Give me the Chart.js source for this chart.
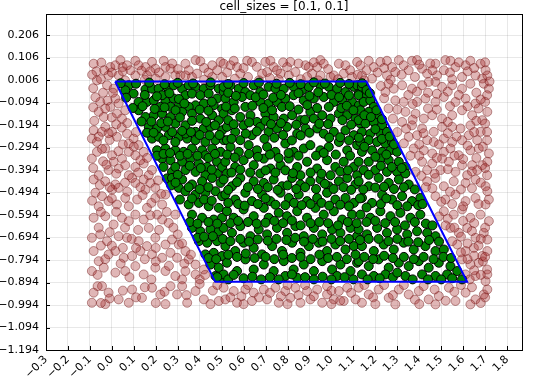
<!DOCTYPE html>
<html>
<head>
<meta charset="utf-8">
<script src="https://cdn.jsdelivr.net/npm/chart.js@4.4.0/dist/chart.umd.min.js"></script>
<style>
  html, body { margin: 0; padding: 0; background: #fff; }
  canvas { display: block; }
</style>
</head>
<body>
<canvas id="grafico" width="535" height="382"></canvas>
<script>
// contorno da célula (paralelogramo)
const cellPoly = [[0.015, 0], [1.16, 0], [1.618, -0.891], [0.471, -0.891], [0.015, 0]];

const xTicks = [-0.3, -0.2, -0.1, 0.0, 0.1, 0.2, 0.3, 0.4, 0.5, 0.6, 0.7, 0.8, 0.9, 1.0, 1.1, 1.2, 1.3, 1.4, 1.5, 1.6, 1.7, 1.8];
const yTicks = [-1.194, -1.094, -0.994, -0.894, -0.794, -0.694, -0.594, -0.494, -0.394, -0.294, -0.194, -0.094, 0.006, 0.106, 0.206];

// pontos dentro da célula
const greenPts = [
[0.099,-0.054],[0.153,-0.035],[0.183,-0.032],[0.213,-0.032],[0.251,-0.024],[0.282,-0.017],[0.320,-0.032],[0.350,-0.017],[0.381,-0.024],[0.419,-0.032],[0.449,-0.017],[0.487,-0.032],[0.510,-0.047],
[0.122,-0.091],[0.160,-0.091],[0.191,-0.084],[0.244,-0.088],[0.282,-0.076],[0.335,-0.061],[0.365,-0.054],[0.403,-0.061],[0.441,-0.054],[0.479,-0.076],[0.381,-0.106],[0.350,-0.113],[0.419,-0.098],[0.305,-0.106],[0.502,-0.121],
[0.153,-0.158],[0.191,-0.150],[0.229,-0.143],[0.267,-0.158],[0.320,-0.135],[0.365,-0.143],[0.403,-0.165],[0.457,-0.150],[0.487,-0.172],[0.289,-0.187],[0.335,-0.195],[0.244,-0.202],[0.168,-0.202],[0.206,-0.209],[0.419,-0.209],[0.381,-0.224],[0.449,-0.202],[0.502,-0.217],
[0.183,-0.254],[0.213,-0.246],[0.259,-0.239],[0.305,-0.246],[0.343,-0.254],[0.381,-0.261],[0.426,-0.269],[0.472,-0.261],[0.510,-0.261],
[0.206,-0.306],[0.244,-0.298],[0.289,-0.306],[0.327,-0.313],[0.365,-0.298],[0.411,-0.306],[0.457,-0.298],[0.495,-0.313],
[0.229,-0.343],[0.267,-0.350],[0.320,-0.357],[0.358,-0.343],[0.396,-0.365],[0.434,-0.380],[0.479,-0.357],
[0.274,-0.402],[0.335,-0.394],[0.381,-0.402],[0.426,-0.417],[0.479,-0.409],[0.251,-0.431],
[0.077,-0.017],[0.061,-0.039],[0.229,-0.061],[0.122,-0.128],[0.267,-0.113],[0.221,-0.113],[0.464,-0.106],[0.335,-0.232],[0.289,-0.269],[0.426,-0.328],[0.289,-0.380],[0.502,-0.380],
[0.509,-0.024],[0.540,-0.017],[0.578,-0.032],[0.608,-0.047],[0.646,-0.017],[0.676,-0.047],[0.714,-0.024],[0.745,-0.032],[0.783,-0.032],[0.828,-0.024],[0.866,-0.039],[0.897,-0.024],[0.950,-0.017],[0.988,-0.024],[1.026,-0.032],[1.064,-0.047],[1.102,-0.024],[1.125,-0.054],
[0.517,-0.076],[0.555,-0.091],[0.593,-0.069],[0.631,-0.061],[0.676,-0.091],[0.714,-0.098],[0.752,-0.091],[0.790,-0.076],[0.828,-0.061],[0.874,-0.084],[0.920,-0.076],[0.965,-0.069],[1.011,-0.091],[1.049,-0.084],[1.094,-0.091],[1.125,-0.106],[0.608,-0.113],[0.775,-0.113],[0.988,-0.113],
[0.509,-0.143],[0.547,-0.128],[0.585,-0.158],[0.631,-0.150],[0.661,-0.180],[0.699,-0.143],[0.737,-0.158],[0.783,-0.165],[0.821,-0.150],[0.859,-0.172],[0.904,-0.135],[0.920,-0.165],[0.958,-0.150],[0.996,-0.165],[1.034,-0.143],[1.072,-0.150],[1.110,-0.165],[1.132,-0.187],
[0.524,-0.202],[0.562,-0.224],[0.600,-0.195],[0.638,-0.239],[0.676,-0.202],[0.714,-0.224],[0.752,-0.209],[0.798,-0.202],[0.844,-0.232],[0.882,-0.209],[0.935,-0.209],[0.965,-0.232],[1.011,-0.224],[1.064,-0.217],[1.102,-0.239],[0.524,-0.261],[0.585,-0.261],
[0.540,-0.291],[0.578,-0.313],[0.623,-0.283],[0.661,-0.306],[0.707,-0.291],[0.745,-0.313],[0.790,-0.276],[0.828,-0.313],[0.874,-0.298],[0.904,-0.283],[0.950,-0.306],[0.988,-0.291],[1.034,-0.269],[1.072,-0.306],[1.117,-0.283],
[0.517,-0.357],[0.562,-0.380],[0.600,-0.350],[0.646,-0.372],[0.692,-0.343],[0.722,-0.387],[0.768,-0.372],[0.806,-0.343],[0.844,-0.380],[0.889,-0.357],[0.935,-0.387],[0.980,-0.350],[1.018,-0.380],[1.056,-0.357],[1.102,-0.380],[0.524,-0.409],[0.676,-0.409],[0.859,-0.417],[0.996,-0.417],[1.117,-0.417],
[1.117,-0.017],[1.139,-0.024],[1.124,-0.061],[1.162,-0.061],[1.147,-0.091],[1.177,-0.084],[1.193,-0.113],[1.132,-0.128],[1.170,-0.135],[1.208,-0.150],[1.124,-0.172],[1.155,-0.187],[1.193,-0.180],[1.231,-0.195],[1.139,-0.224],[1.177,-0.232],[1.223,-0.232],[1.253,-0.224],[1.132,-0.269],[1.170,-0.261],[1.208,-0.269],[1.246,-0.276],[1.276,-0.269],[1.139,-0.313],[1.185,-0.306],[1.231,-0.313],[1.269,-0.306],[1.299,-0.313],[1.124,-0.357],[1.170,-0.357],[1.223,-0.343],[1.261,-0.350],[1.307,-0.357],[1.337,-0.380],[1.147,-0.394],[1.200,-0.394],[1.253,-0.402],[1.299,-0.402],[1.337,-0.409],
[0.274,-0.429],[0.320,-0.436],[0.365,-0.458],[0.411,-0.444],[0.457,-0.429],[0.495,-0.451],[0.305,-0.473],[0.335,-0.488],[0.381,-0.503],[0.426,-0.495],[0.472,-0.488],[0.502,-0.510],[0.350,-0.547],[0.396,-0.540],[0.441,-0.555],[0.487,-0.562],[0.365,-0.592],[0.411,-0.606],[0.464,-0.614],[0.502,-0.606],[0.365,-0.651],[0.403,-0.666],[0.449,-0.658],[0.487,-0.666],[0.396,-0.710],[0.434,-0.717],[0.479,-0.710],[0.426,-0.769],[0.464,-0.762],[0.502,-0.776],[0.449,-0.814],[0.487,-0.828],[0.472,-0.865],[0.502,-0.873],
[0.509,-0.436],[0.547,-0.466],[0.585,-0.429],[0.646,-0.444],[0.692,-0.451],[0.737,-0.436],[0.775,-0.466],[0.821,-0.429],[0.859,-0.458],[0.904,-0.444],[0.950,-0.436],[0.988,-0.466],[1.034,-0.444],[1.072,-0.429],[1.110,-0.458],
[0.517,-0.503],[0.562,-0.525],[0.608,-0.495],[0.638,-0.532],[0.684,-0.503],[0.722,-0.532],[0.768,-0.495],[0.806,-0.518],[0.851,-0.503],[0.889,-0.532],[0.935,-0.518],[0.980,-0.495],[1.018,-0.525],[1.064,-0.518],[1.102,-0.540],
[0.524,-0.577],[0.555,-0.606],[0.600,-0.569],[0.646,-0.599],[0.692,-0.562],[0.714,-0.606],[0.760,-0.584],[0.798,-0.599],[0.844,-0.577],[0.889,-0.606],[0.927,-0.562],[0.965,-0.592],[1.011,-0.577],[1.049,-0.614],[1.094,-0.592],
[0.509,-0.651],[0.547,-0.673],[0.585,-0.643],[0.631,-0.688],[0.669,-0.658],[0.707,-0.680],[0.752,-0.651],[0.798,-0.673],[0.836,-0.643],[0.874,-0.688],[0.920,-0.651],[0.958,-0.680],[1.003,-0.658],[1.041,-0.673],[1.087,-0.651],[1.117,-0.688],
[0.517,-0.732],[0.562,-0.754],[0.600,-0.717],[0.646,-0.740],[0.684,-0.769],[0.730,-0.732],[0.775,-0.754],[0.821,-0.717],[0.859,-0.762],[0.897,-0.732],[0.942,-0.717],[0.980,-0.754],[1.018,-0.725],[1.064,-0.747],[1.102,-0.732],
[0.524,-0.806],[0.570,-0.843],[0.608,-0.791],[0.646,-0.836],[0.692,-0.814],[0.737,-0.843],[0.783,-0.799],[0.828,-0.836],[0.874,-0.814],[0.920,-0.843],[0.958,-0.799],[1.003,-0.836],[1.041,-0.814],[1.087,-0.843],[1.117,-0.806],[0.509,-0.858],[0.790,-0.865],[0.844,-0.873],[1.026,-0.865],
[1.124,-0.444],[1.170,-0.466],[1.215,-0.429],[1.261,-0.451],[1.307,-0.436],[1.352,-0.458],
[1.139,-0.518],[1.185,-0.540],[1.231,-0.503],[1.276,-0.525],[1.322,-0.510],[1.367,-0.532],[1.405,-0.518],
[1.132,-0.592],[1.177,-0.606],[1.223,-0.577],[1.269,-0.599],[1.314,-0.584],[1.360,-0.606],[1.405,-0.592],
[1.124,-0.658],[1.162,-0.680],[1.208,-0.651],[1.253,-0.673],[1.299,-0.658],[1.345,-0.680],[1.390,-0.666],[1.436,-0.673],[1.474,-0.688],
[1.139,-0.732],[1.193,-0.754],[1.238,-0.725],[1.284,-0.747],[1.329,-0.717],[1.375,-0.747],[1.428,-0.732],[1.474,-0.754],[1.512,-0.747],
[1.124,-0.799],[1.170,-0.821],[1.215,-0.791],[1.261,-0.828],[1.307,-0.806],[1.352,-0.821],[1.398,-0.799],[1.443,-0.828],[1.489,-0.806],[1.542,-0.821],
[1.139,-0.858],[1.193,-0.865],[1.246,-0.858],[1.337,-0.865],[1.413,-0.858],[1.474,-0.865],[1.527,-0.858],[1.573,-0.843],
[0.040,-0.008],[0.110,-0.010],[0.170,-0.005],[0.240,-0.012],[0.300,-0.006],[0.370,-0.009],[0.450,-0.004],[0.530,-0.011],[0.600,-0.007],[0.670,-0.005],[0.750,-0.010],[0.810,-0.006],[0.860,-0.012],[0.920,-0.004],[0.970,-0.009],[1.040,-0.006],[1.080,-0.011],[1.140,-0.008],
[0.065,-0.072],[0.150,-0.060],[0.205,-0.066],[0.262,-0.052],[0.305,-0.078],[0.455,-0.090],[0.530,-0.050],[0.565,-0.064],[0.655,-0.070],[0.690,-0.058],[0.735,-0.072],[0.770,-0.060],[0.850,-0.052],[0.900,-0.064],[0.940,-0.048],[1.000,-0.060],[1.035,-0.070],[1.080,-0.062],[1.160,-0.038],[1.175,-0.052],
[0.095,-0.118],[0.140,-0.110],[0.195,-0.122],[0.240,-0.115],[0.290,-0.128],[0.330,-0.098],[0.400,-0.125],[0.440,-0.130],[0.520,-0.112],[0.560,-0.120],[0.640,-0.108],[0.690,-0.118],[0.730,-0.128],[0.810,-0.110],[0.850,-0.125],[0.890,-0.105],[0.935,-0.118],[1.045,-0.118],[1.070,-0.108],[1.100,-0.128],[1.150,-0.150],[1.205,-0.128],
[0.135,-0.178],[0.180,-0.178],[0.225,-0.185],[0.255,-0.178],[0.310,-0.160],[0.365,-0.175],[0.430,-0.180],[0.470,-0.195],[0.530,-0.172],[0.555,-0.190],[0.625,-0.182],[0.700,-0.175],[0.725,-0.190],[0.770,-0.185],[0.840,-0.192],[0.880,-0.170],[0.945,-0.188],[0.985,-0.190],[1.050,-0.172],[1.090,-0.192],[1.180,-0.158],[1.230,-0.168],
[0.160,-0.228],[0.190,-0.228],[0.235,-0.262],[0.275,-0.225],[0.320,-0.220],[0.360,-0.225],[0.400,-0.238],[0.445,-0.240],[0.490,-0.238],[0.545,-0.255],[0.610,-0.232],[0.660,-0.222],[0.695,-0.255],[0.740,-0.250],[0.780,-0.238],[0.820,-0.262],[0.860,-0.240],[0.900,-0.228],[0.990,-0.250],[1.040,-0.248],[1.080,-0.262],[1.125,-0.250],[1.200,-0.212],[1.230,-0.255],[1.265,-0.245],
[0.205,-0.330],[0.235,-0.322],[0.265,-0.318],[0.310,-0.330],[0.345,-0.322],[0.390,-0.330],[0.440,-0.340],[0.470,-0.322],[0.525,-0.325],[0.560,-0.338],[0.625,-0.322],[0.665,-0.335],[0.720,-0.325],[0.760,-0.340],[0.805,-0.318],[0.850,-0.330],[0.930,-0.330],[0.965,-0.318],[1.020,-0.325],[1.085,-0.330],[1.150,-0.290],[1.200,-0.335],[1.250,-0.325],[1.285,-0.280],
[0.235,-0.380],[0.300,-0.415],[0.355,-0.375],[0.405,-0.385],[0.455,-0.392],[0.545,-0.405],[0.585,-0.392],[0.630,-0.405],[0.700,-0.395],[0.745,-0.405],[0.790,-0.395],[0.825,-0.408],[0.905,-0.405],[0.955,-0.410],[1.040,-0.400],[1.075,-0.395],[1.170,-0.415],[1.225,-0.375],[1.275,-0.380],[1.320,-0.385],
[0.270,-0.462],[0.290,-0.450],[0.350,-0.470],[0.400,-0.478],[0.440,-0.470],[0.530,-0.482],[0.570,-0.448],[0.620,-0.470],[0.665,-0.478],[0.710,-0.470],[0.755,-0.482],[0.800,-0.462],[0.840,-0.478],[0.880,-0.470],[0.930,-0.478],[0.970,-0.455],[1.010,-0.478],[1.055,-0.470],[1.090,-0.482],[1.145,-0.480],[1.200,-0.472],[1.240,-0.468],[1.285,-0.478],[1.330,-0.470],[1.380,-0.480],
[0.310,-0.525],[0.365,-0.520],[0.420,-0.525],[0.455,-0.530],[0.530,-0.540],[0.575,-0.545],[0.605,-0.552],[0.665,-0.545],[0.700,-0.520],[0.745,-0.548],[0.790,-0.550],[0.830,-0.540],[0.865,-0.550],[0.905,-0.545],[0.955,-0.540],[0.990,-0.552],[1.040,-0.548],[1.080,-0.555],[1.130,-0.520],[1.160,-0.560],[1.225,-0.545],[1.250,-0.520],[1.300,-0.550],[1.345,-0.555],[1.395,-0.550],[1.415,-0.545],
[0.355,-0.625],[0.390,-0.632],[0.440,-0.625],[0.480,-0.632],[0.540,-0.630],[0.575,-0.620],[0.620,-0.625],[0.660,-0.632],[0.700,-0.628],[0.740,-0.620],[0.780,-0.630],[0.820,-0.618],[0.860,-0.640],[0.905,-0.630],[0.945,-0.625],[0.985,-0.630],[1.030,-0.640],[1.075,-0.625],[1.115,-0.630],[1.160,-0.625],[1.200,-0.620],[1.245,-0.630],[1.290,-0.625],[1.335,-0.640],[1.380,-0.625],[1.430,-0.632],[1.460,-0.640],
[0.390,-0.695],[0.420,-0.690],[0.460,-0.688],[0.505,-0.700],[0.540,-0.710],[0.585,-0.700],[0.625,-0.712],[0.665,-0.702],[0.710,-0.708],[0.750,-0.700],[0.795,-0.705],[0.835,-0.695],[0.875,-0.712],[0.915,-0.700],[0.960,-0.712],[1.000,-0.700],[1.040,-0.710],[1.080,-0.700],[1.130,-0.705],[1.170,-0.700],[1.215,-0.700],[1.260,-0.710],[1.300,-0.700],[1.350,-0.712],[1.395,-0.715],[1.445,-0.705],[1.490,-0.712],
[0.440,-0.785],[0.475,-0.790],[0.530,-0.770],[0.570,-0.780],[0.610,-0.765],[0.650,-0.785],[0.700,-0.780],[0.740,-0.790],[0.780,-0.770],[0.820,-0.785],[0.860,-0.780],[0.905,-0.790],[0.945,-0.770],[0.985,-0.785],[1.025,-0.780],[1.070,-0.790],[1.110,-0.770],[1.150,-0.780],[1.190,-0.790],[1.240,-0.775],[1.280,-0.785],[1.330,-0.780],[1.375,-0.790],[1.420,-0.780],[1.465,-0.790],[1.510,-0.780],[1.545,-0.785],
[0.480,-0.870],[0.530,-0.880],[0.555,-0.860],[0.600,-0.875],[0.640,-0.868],[0.680,-0.880],[0.720,-0.870],[0.760,-0.880],[0.820,-0.858],[0.880,-0.870],[0.920,-0.880],[0.960,-0.868],[1.000,-0.880],[1.060,-0.870],[1.100,-0.880],[1.165,-0.880],[1.220,-0.875],[1.280,-0.870],[1.300,-0.850],[1.370,-0.880],[1.440,-0.880],[1.500,-0.880],[1.550,-0.875],[1.595,-0.880]
];

// pontos fora da célula
const brownPts = [
[-0.083,0.079],[-0.048,0.084],[-0.007,0.064],[0.016,0.072],[0.039,0.095],[0.049,0.064],[0.069,0.072],[0.107,0.092],[0.122,0.072],[0.153,0.064],[0.183,0.087],[0.198,0.057],[0.236,0.092],[0.244,0.064],[0.267,0.057],[0.335,0.079],[0.381,0.095],[0.403,0.090],[0.457,0.072],[0.495,0.087],[-0.015,0.027],[0.031,0.027],[0.107,0.027],[0.160,0.027],[0.244,0.020],[0.289,0.027],[0.312,0.027],[0.335,0.027],[0.365,0.020],[0.388,0.035],[0.457,0.020],[0.502,0.020],[-0.068,0.005],[-0.022,-0.017],[0.008,-0.032],
[-0.053,-0.091],[-0.060,-0.135],[-0.037,-0.158],[-0.007,-0.113],[0.016,-0.076],[0.031,-0.098],[0.023,-0.143],[0.046,-0.165],[0.061,-0.128],[-0.030,-0.202],[-0.083,-0.217],[-0.091,-0.254],[-0.068,-0.269],[-0.045,-0.224],[0.001,-0.224],[0.023,-0.246],[0.069,-0.232],[0.077,-0.276],[0.099,-0.254],[0.122,-0.283],[-0.068,-0.313],[-0.030,-0.298],[0.001,-0.328],[0.008,-0.357],[0.046,-0.343],[0.077,-0.313],[0.107,-0.328],[0.145,-0.313],[0.061,-0.372],[0.031,-0.387],[-0.015,-0.394],[-0.060,-0.417],[-0.091,-0.343],[0.107,-0.380],[0.145,-0.365],[0.183,-0.394],[0.077,-0.417],[0.168,-0.417],
[0.509,0.079],[0.540,0.072],[0.570,0.064],[0.585,0.035],[0.616,0.092],[0.638,0.087],[0.699,0.087],[0.722,0.092],[0.737,0.064],[0.707,0.042],[0.684,0.035],[0.752,0.050],[0.768,0.035],[0.798,0.064],[0.813,0.087],[0.806,0.027],[0.836,0.042],[0.882,0.072],[0.897,0.064],[0.912,0.035],[0.889,0.020],[0.935,0.064],[0.950,0.095],[0.965,0.079],[0.950,0.027],[0.996,0.020],[1.011,0.027],[1.034,0.079],[1.064,0.072],[1.056,0.035],[1.094,0.020],[1.117,0.087],
[1.132,0.072],[1.170,0.092],[1.193,0.064],[1.223,0.087],[1.253,0.092],[1.276,0.064],[1.307,0.095],[1.329,0.072],[1.367,0.092],[1.390,0.095],[1.352,0.050],[1.291,0.042],[1.253,0.027],[1.185,0.013],[1.139,0.027],[1.413,0.057],[1.436,0.035],[1.474,0.079],[1.481,0.027],[1.519,0.095],[1.542,0.092],[1.512,0.050],[1.565,0.064],[1.595,0.020],[1.611,0.072],[1.633,0.092],[1.679,0.079],[1.702,0.050],[1.687,0.013],[1.710,0.027],[1.656,0.027],[1.474,-0.002],
[1.246,-0.047],[1.284,-0.032],[1.322,-0.017],[1.367,-0.032],[1.413,-0.017],[1.443,-0.002],[1.504,-0.024],[1.550,-0.017],[1.595,-0.032],[1.633,-0.010],[1.694,-0.010],[1.717,-0.032],
[1.291,-0.084],[1.329,-0.091],[1.390,-0.091],[1.428,-0.076],[1.474,-0.091],[1.512,-0.069],[1.565,-0.091],[1.611,-0.076],[1.656,-0.098],[1.709,-0.061],[1.700,-0.091],
[1.337,-0.135],[1.383,-0.143],[1.421,-0.165],[1.459,-0.150],[1.504,-0.165],[1.550,-0.150],[1.595,-0.128],[1.641,-0.150],[1.687,-0.172],[1.710,-0.135],[1.700,-0.187],
[1.322,-0.180],[1.367,-0.195],[1.413,-0.209],[1.466,-0.224],[1.504,-0.202],[1.550,-0.202],[1.588,-0.209],[1.633,-0.195],[1.679,-0.224],[1.709,-0.224],
[1.352,-0.246],[1.390,-0.239],[1.436,-0.261],[1.466,-0.269],[1.512,-0.254],[1.550,-0.269],[1.595,-0.261],[1.626,-0.239],[1.664,-0.261],[1.709,-0.261],
[1.375,-0.298],[1.421,-0.306],[1.459,-0.320],[1.512,-0.313],[1.542,-0.298],[1.580,-0.328],[1.633,-0.306],[1.671,-0.298],[1.717,-0.320],
[1.413,-0.357],[1.459,-0.365],[1.504,-0.343],[1.535,-0.357],[1.595,-0.372],[1.641,-0.372],[1.687,-0.372],[1.710,-0.357],
[1.383,-0.402],[1.436,-0.394],[1.497,-0.394],[1.565,-0.402],[1.618,-0.417],[1.664,-0.394],[1.709,-0.417],
[-0.083,-0.436],[-0.030,-0.444],[0.016,-0.458],[0.001,-0.481],[0.031,-0.473],[0.092,-0.429],[0.107,-0.451],[0.145,-0.436],[0.175,-0.451],[0.153,-0.481],[0.198,-0.473],
[-0.075,-0.495],[-0.045,-0.510],[-0.060,-0.555],[-0.015,-0.532],[0.023,-0.547],[0.061,-0.518],[0.077,-0.555],[0.115,-0.525],[0.160,-0.562],[0.198,-0.518],[0.229,-0.547],[0.244,-0.503],
[-0.083,-0.606],[-0.030,-0.599],[0.008,-0.636],[0.046,-0.606],[0.077,-0.621],[0.107,-0.592],[0.145,-0.614],[0.168,-0.651],[0.206,-0.592],[0.229,-0.614],[0.259,-0.629],[0.289,-0.592],
[-0.091,-0.695],[-0.053,-0.680],[-0.022,-0.710],[0.031,-0.688],[0.069,-0.695],[0.122,-0.710],[0.160,-0.732],[0.198,-0.695],[0.244,-0.725],[0.274,-0.703],[0.305,-0.725],[0.335,-0.754],
[-0.083,-0.754],[-0.060,-0.799],[-0.015,-0.769],[0.016,-0.754],[0.054,-0.784],[0.092,-0.776],[0.130,-0.754],[0.183,-0.769],[0.229,-0.784],[0.267,-0.762],[0.297,-0.784],[0.350,-0.791],[0.381,-0.814],
[-0.091,-0.843],[-0.037,-0.828],[0.016,-0.850],[0.061,-0.843],[0.107,-0.821],[0.145,-0.858],[0.198,-0.828],[0.244,-0.843],[0.289,-0.865],[0.335,-0.843],[0.381,-0.858],[0.419,-0.836],
[-0.083,-0.939],[-0.045,-0.910],[-0.015,-0.939],[0.031,-0.969],[0.092,-0.925],[0.137,-0.962],[0.183,-0.917],[0.221,-0.947],[0.267,-0.910],[0.297,-0.947],[0.343,-0.984],[0.381,-0.932],[0.419,-0.969],[0.449,-0.990],[0.487,-0.976],[-0.091,-0.984],[-0.030,-0.990],[0.077,-0.984],[0.244,-0.990],
[0.509,-0.917],[0.555,-0.932],[0.608,-0.925],[0.646,-0.939],[0.692,-0.925],[0.745,-0.917],[0.790,-0.932],[0.836,-0.917],[0.889,-0.932],[0.935,-0.925],[0.980,-0.910],[1.034,-0.932],[1.072,-0.917],[0.517,-0.969],[0.570,-0.984],[0.638,-0.976],[0.707,-0.969],[0.760,-0.984],[0.813,-0.962],[0.859,-0.984],[0.904,-0.969],[0.958,-0.984],[1.011,-0.969],[1.056,-0.976],[1.110,-0.969],[0.980,-0.947],
[1.436,-0.444],[1.474,-0.429],[1.512,-0.466],[1.557,-0.444],[1.611,-0.451],[1.656,-0.436],[1.702,-0.466],[1.710,-0.488],
[1.474,-0.510],[1.519,-0.525],[1.565,-0.503],[1.611,-0.532],[1.656,-0.518],[1.702,-0.547],[1.717,-0.525],
[1.512,-0.577],[1.557,-0.592],[1.595,-0.569],[1.633,-0.606],[1.679,-0.592],[1.717,-0.621],
[1.542,-0.651],[1.580,-0.673],[1.618,-0.651],[1.656,-0.695],[1.694,-0.673],[1.710,-0.703],
[1.573,-0.725],[1.611,-0.754],[1.649,-0.740],[1.687,-0.776],[1.710,-0.754],
[1.595,-0.791],[1.633,-0.814],[1.671,-0.806],[1.709,-0.836],
[1.611,-0.858],[1.656,-0.865],[1.702,-0.888],[1.710,-0.858],
[1.124,-0.917],[1.170,-0.947],[1.215,-0.925],[1.261,-0.962],[1.307,-0.925],[1.352,-0.947],[1.398,-0.932],[1.443,-0.969],[1.489,-0.954],[1.535,-0.917],[1.565,-0.976],[1.611,-0.939],[1.656,-0.969],[1.694,-0.947],[1.710,-0.925],[1.139,-0.984],[1.291,-0.991],[1.474,-0.991],[1.633,-0.991],
[-0.070,0.045],[-0.035,0.050],[0.000,0.040],[0.050,0.045],[0.085,0.050],[0.135,0.048],[0.175,0.045],[0.215,0.040],[0.275,0.080],[0.300,0.055],[0.350,0.050],[0.420,0.060],[0.440,0.040],[0.480,0.050],[0.525,0.040],[0.555,0.092],[0.600,0.060],[0.660,0.065],[0.670,0.005],[0.720,0.015],[0.780,0.085],[0.850,0.080],[0.860,0.010],[0.920,0.085],[0.985,0.055],[1.030,0.010],[1.085,0.050],[1.120,0.030],[1.160,0.050],[1.210,0.040],[1.240,0.060],[1.320,0.030],[1.380,0.020],[1.400,0.075],[1.450,0.080],[1.460,0.050],[1.540,0.040],[1.580,0.085],[1.620,0.045],[1.650,0.060],[1.700,0.085],[1.720,0.000],[-0.090,0.030],[-0.050,0.010],[0.060,0.005],[0.150,0.008],[0.200,0.012],[0.420,0.008],[0.560,0.012],[0.620,0.020],[0.760,0.008],[0.940,0.005],[1.150,0.005],[1.270,0.008],[1.550,0.010],
[-0.085,-0.030],[-0.040,-0.050],[-0.075,-0.070],[-0.020,-0.085],[0.005,-0.050],
[-0.085,-0.115],[-0.030,-0.120],[0.000,-0.160],[-0.080,-0.175],[0.070,-0.185],[0.020,-0.190],
[-0.060,-0.245],[-0.010,-0.260],[0.045,-0.205],[0.050,-0.280],[0.110,-0.225],[0.100,-0.290],[-0.015,-0.230],
[-0.085,-0.385],[-0.040,-0.355],[-0.045,-0.300],[0.030,-0.310],[0.130,-0.350],[0.160,-0.340],[0.020,-0.410],[0.120,-0.405],[-0.025,-0.370],
[-0.055,-0.460],[-0.010,-0.470],[0.060,-0.450],[0.130,-0.470],[0.210,-0.440],[0.225,-0.500],[0.070,-0.490],[0.140,-0.505],[0.180,-0.540],[0.000,-0.520],[-0.090,-0.530],
[-0.050,-0.580],[0.020,-0.580],[0.060,-0.650],[0.120,-0.660],[0.175,-0.595],[0.250,-0.580],[0.280,-0.650],[0.215,-0.660],[-0.060,-0.650],[-0.010,-0.670],[0.300,-0.680],[0.090,-0.700],
[-0.050,-0.730],[0.000,-0.730],[0.050,-0.740],[0.110,-0.740],[0.200,-0.740],[0.320,-0.720],[-0.030,-0.790],[0.040,-0.810],[0.150,-0.790],[0.200,-0.800],[0.260,-0.820],[0.330,-0.810],[0.360,-0.770],[-0.065,-0.860],[0.080,-0.870],[0.180,-0.880],[0.320,-0.880],[0.400,-0.880],[0.425,-0.860],
[-0.065,-0.910],[-0.010,-0.965],[0.050,-0.930],[0.110,-0.960],[0.150,-0.915],[0.200,-0.985],[0.240,-0.935],[0.320,-0.910],[0.340,-0.950],[0.400,-0.900],[0.460,-0.930],[0.480,-0.905],[0.540,-0.960],[0.590,-0.955],[0.620,-0.905],[0.670,-0.960],[0.720,-0.940],[0.770,-0.955],[0.800,-0.905],[0.850,-0.950],[0.880,-0.905],[0.920,-0.955],[1.000,-0.930],[1.040,-0.975],[1.090,-0.940],[1.150,-0.905],[1.190,-0.960],[1.240,-0.905],[1.280,-0.950],[1.330,-0.905],[1.380,-0.970],[1.420,-0.910],[1.470,-0.925],[1.520,-0.975],[1.560,-0.935],[1.590,-0.905],[1.640,-0.915],[1.680,-0.985],[1.700,-0.960],[0.600,-0.990],[0.800,-0.990],[1.000,-0.990],[1.200,-0.990],[1.400,-0.990],[-0.050,-0.985],
[1.225,-0.020],[1.260,-0.010],[1.350,-0.060],[1.390,-0.045],[1.440,-0.050],[1.480,-0.055],[1.530,-0.045],[1.580,-0.060],[1.660,-0.050],[1.680,-0.080],[1.240,-0.075],
[1.260,-0.120],[1.300,-0.125],[1.370,-0.100],[1.440,-0.120],[1.480,-0.125],[1.540,-0.110],[1.620,-0.110],[1.670,-0.120],[1.280,-0.165],[1.370,-0.170],[1.530,-0.180],[1.660,-0.175],
[1.300,-0.225],[1.340,-0.210],[1.420,-0.230],[1.530,-0.230],[1.570,-0.245],[1.650,-0.225],[1.330,-0.275],[1.400,-0.280],[1.490,-0.280],[1.620,-0.285],[1.690,-0.290],
[1.360,-0.330],[1.400,-0.330],[1.480,-0.340],[1.560,-0.330],[1.600,-0.345],[1.660,-0.340],[1.700,-0.385],[1.640,-0.400],[1.530,-0.390],[1.470,-0.410],[1.410,-0.420],
[1.430,-0.470],[1.460,-0.475],[1.540,-0.490],[1.590,-0.480],[1.640,-0.475],[1.680,-0.450],[1.500,-0.535],[1.550,-0.545],[1.600,-0.555],[1.670,-0.545],
[1.490,-0.600],[1.530,-0.610],[1.600,-0.620],[1.650,-0.630],[1.700,-0.650],[1.520,-0.640],[1.560,-0.650],[1.640,-0.665],[1.590,-0.690],[1.680,-0.700],
[1.550,-0.710],[1.620,-0.720],[1.670,-0.730],[1.590,-0.760],[1.650,-0.775],[1.620,-0.790],[1.690,-0.800],[1.650,-0.840],[1.680,-0.860],[1.630,-0.880],[1.700,-0.780]
];

const toXY = arr => arr.map(p => ({ x: p[0], y: p[1] }));
const fmt = (v, d) => v.toFixed(d).replace('-', '\u2212');
const FONTE = 'DejaVu Sans';

// moldura, marcas internas e título
const extras = {
    id: 'extras',
    afterDraw(chart) {
        const c = chart.ctx, a = chart.chartArea;
        const sx = chart.scales.x, sy = chart.scales.y;
        c.save();
        c.strokeStyle = '#000';
        c.lineWidth = 1;
        c.beginPath();
        xTicks.forEach(v => {
            const px = Math.round(sx.getPixelForValue(v)) + 0.5;
            c.moveTo(px, a.bottom); c.lineTo(px, a.bottom - 4);
        });
        yTicks.forEach(v => {
            const py = Math.round(sy.getPixelForValue(v)) + 0.5;
            c.moveTo(a.left, py); c.lineTo(a.left + 4, py);
        });
        c.stroke();
        c.strokeRect(Math.round(a.left) + 0.5, Math.round(a.top) + 0.5, Math.round(a.right - a.left), Math.round(a.bottom - a.top));
        c.fillStyle = '#000';
        c.font = '12px "' + FONTE + '"';
        c.textAlign = 'center';
        c.textBaseline = 'middle';
        c.fillText('cell_sizes = [0.1, 0.1]', (a.left + a.right) / 2, 7);
        c.restore();
    }
};

const ctx = document.getElementById('grafico').getContext('2d');
const grafico = new Chart(ctx, {
    type: 'scatter',
    data: {
        datasets: [{
            data: toXY(cellPoly),
            showLine: true,
            borderColor: '#0000ff',
            borderWidth: 2,
            pointRadius: 0,
            fill: false
        }, {
            data: toXY(greenPts),
            backgroundColor: '#008000',
            borderColor: '#000',
            borderWidth: 1,
            pointRadius: 4.5
        }, {
            data: toXY(brownPts),
            backgroundColor: 'rgba(165, 42, 42, 0.34)',
            borderColor: 'rgba(110, 20, 20, 0.45)',
            borderWidth: 1,
            pointRadius: 4.5
        }]
    },
    options: {
        responsive: false,
        animation: false,
        layout: { padding: { top: 14, right: 13, left: 0, bottom: 0 } },
        plugins: { legend: { display: false }, tooltip: { enabled: false } },
        scales: {
            x: {
                type: 'linear',
                min: -0.3,
                max: 1.868,
                afterBuildTicks: s => { s.ticks = xTicks.map(v => ({ value: v })); },
                afterFit: s => { s.height = 32; },
                grid: { color: 'rgba(0,0,0,0.09)', drawTicks: false },
                border: { display: false },
                ticks: {
                    autoSkip: false,
                    minRotation: 45,
                    maxRotation: 45,
                    padding: 3,
                    color: '#000',
                    font: { family: FONTE, size: 11 },
                    callback: v => fmt(v, 1)
                }
            },
            y: {
                min: -1.194,
                max: 0.3,
                afterBuildTicks: s => { s.ticks = yTicks.map(v => ({ value: v })); },
                afterFit: s => { s.width = 46; },
                grid: { color: 'rgba(0,0,0,0.09)', drawTicks: false },
                border: { display: false },
                ticks: {
                    padding: 7,
                    color: '#000',
                    font: { family: FONTE, size: 11 },
                    callback: v => fmt(v, 3)
                }
            }
        }
    },
    plugins: [extras]
});
</script>
</body>
</html>
